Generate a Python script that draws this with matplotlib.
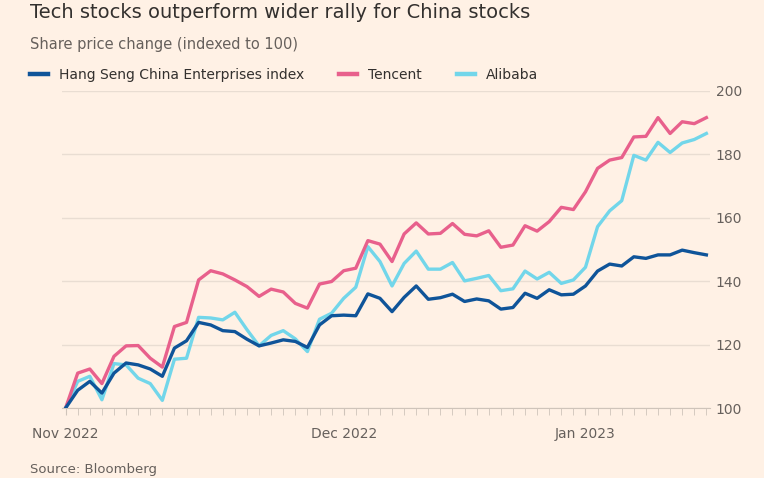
import matplotlib.pyplot as plt
import numpy as np

hscei = [100, 105.6, 108.4, 104.7, 111, 114.2, 113.6, 112.3, 110, 118.9, 121.2, 127, 126.2,
         124.4, 124.1, 121.7, 119.6, 120.5, 121.5, 121, 119.1, 126.2, 129.1, 129.3, 129.1,
         136, 134.6, 130.4, 134.9, 138.5, 134.3, 134.8, 135.9, 133.6, 134.4, 133.8, 131.2,
         131.7, 136.2, 134.6, 137.3, 135.7, 135.9, 138.5, 143.2, 145.4, 144.8, 147.7, 147.2,
         148.3, 148.3, 149.8, 149, 148.3]
tencent = [100, 111, 112.3, 107.7, 116.3, 119.6, 119.7, 115.7, 112.9, 125.7, 127, 140.4, 143.3,
           142.3, 140.4, 138.3, 135.2, 137.5, 136.6, 133, 131.5, 139.1, 139.9, 143.3, 144.1,
           152.8, 151.7, 146.2, 154.9, 158.4, 154.9, 155.1, 158.2, 154.8, 154.3, 155.9, 150.7,
           151.4, 157.5, 155.8, 158.8, 163.3, 162.6, 168.2, 175.6, 178.2, 179, 185.5, 185.7,
           191.6, 186.6, 190.3, 189.7, 191.6]
alibaba = [100, 108.4, 110, 102.6, 114, 113.6, 109.4, 107.7, 102.4, 115.4, 115.7, 128.6, 128.4,
           127.8, 130.2, 124.7, 119.6, 122.9, 124.4, 121.8, 117.8, 128, 129.9, 134.6, 138.1,
           150.9, 146.2, 138.5, 145.6, 149.5, 143.8, 143.8, 145.9, 140.1, 140.9, 141.8, 137,
           137.6, 143.2, 140.7, 142.8, 139.3, 140.4, 144.4, 157.2, 162.2, 165.4, 179.7, 178.2,
           183.8, 180.6, 183.6, 184.7, 186.6]
month_pos = [0, 23, 43]
month_labels = ['Nov 2022', 'Dec 2022', 'Jan 2023']
y_ticks = [100, 120, 140, 160, 180, 200]

bg = '#fff1e5'
fig = plt.figure(figsize=(7.64, 4.78), dpi=100, facecolor=bg)
ax = fig.add_axes([62/764, 70/478, (710-62)/764, (408-91)/478], facecolor=bg)

x = np.arange(len(hscei))
ax.plot(x, hscei, color='#0f5499', lw=2.4, label='Hang Seng China Enterprises index', zorder=4)
ax.plot(x, tencent, color='#e8608c', lw=2.4, label='Tencent', zorder=3)
ax.plot(x, alibaba, color='#72d6ea', lw=2.4, label='Alibaba', zorder=2)

ax.set_ylim(100, 200)
ax.set_xlim(-0.3, 53.3)
ax.set_yticks(y_ticks)
ax.yaxis.tick_right()
ax.tick_params(axis='y', length=0, labelsize=10, labelcolor='#66605c', pad=4)
ax.grid(axis='y', color='#e9ddd2', lw=1)
ax.set_xticks(month_pos)
ax.set_xticklabels(month_labels)
ax.set_xticks(x, minor=True)
ax.tick_params(axis='x', which='both', length=5, color='#cfc4ba', labelsize=10,
               labelcolor='#66605c', pad=9)
for s in ['top', 'right', 'left']:
    ax.spines[s].set_visible(False)
ax.spines['bottom'].set_color('#cfc4ba')
ax.set_axisbelow(True)

fig.text(30/764, 1 - 13/478, 'Tech stocks outperform wider rally for China stocks', fontsize=14,
         color='#33302e', va='center')
fig.text(30/764, 1 - 44/478, 'Share price change (indexed to 100)', fontsize=10.5, color='#66605c', va='center')
fig.text(30/764, 1 - 470/478, 'Source: Bloomberg', fontsize=9.5, color='#66605c', va='center')
leg = ax.legend(loc='lower left', bbox_to_anchor=(30/764, 1 - 82/478), bbox_transform=fig.transFigure,
                ncol=3, frameon=False, fontsize=10, handlelength=1.3, columnspacing=2.5,
                labelcolor='#33302e', borderaxespad=0, borderpad=0)
for h in leg.get_lines():
    h.set_linewidth(3.2)

fig.savefig('out.png', dpi=100, facecolor=bg)
